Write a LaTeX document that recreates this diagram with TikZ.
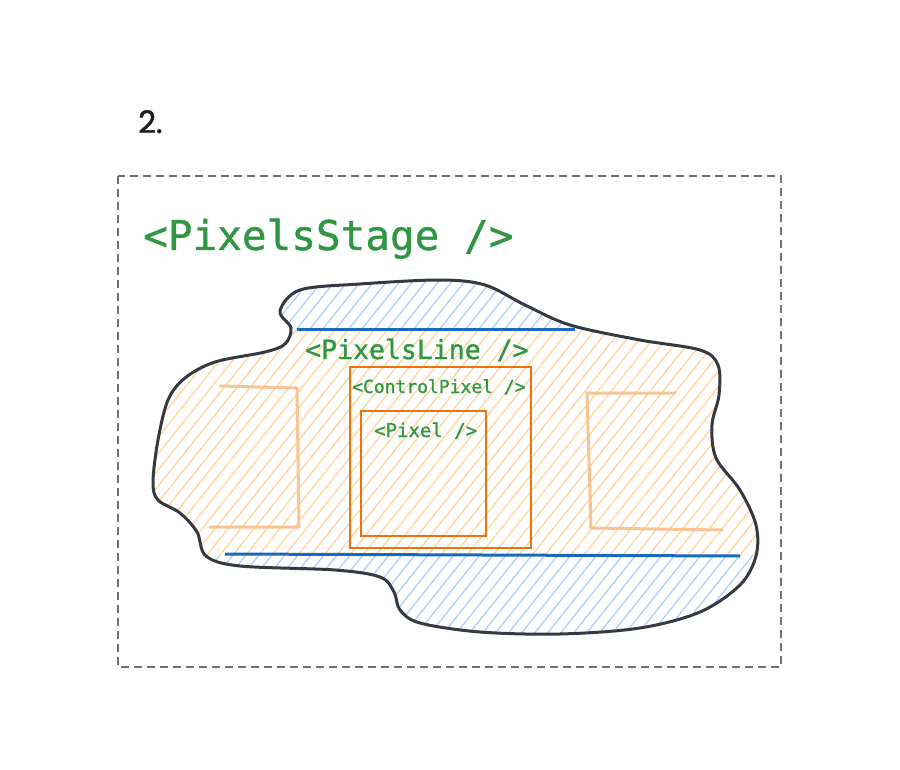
\documentclass[tikz,border=0pt]{standalone}
\usepackage{fontspec}
\newfontfamily\tagfont{DejaVu Sans Mono}[BoldFont={DejaVu Sans Mono}, BoldFeatures={FakeBold=0.9}]
\newfontfamily\numfont{Poppins}[BoldFont={Poppins}, BoldFeatures={FakeBold=1.5}]
\definecolor{tagG}{RGB}{47,150,66}
\definecolor{boxO}{RGB}{240,112,10}
\definecolor{lightO}{RGB}{248,196,150}
\definecolor{hatchO}{RGB}{255,214,155}
\definecolor{hatchB}{RGB}{182,202,250}
\definecolor{lineB}{RGB}{25,105,190}
\definecolor{blobK}{RGB}{52,58,64}
\definecolor{dashG}{RGB}{112,112,112}
\tikzset{
  tag/.style={text=tagG, inner sep=0pt, anchor=base west},
  obox/.style={draw=boxO, line width=1.7pt},
  side/.style={draw=lightO, line width=3pt, line join=round, line cap=round},
  bline/.style={draw=lineB, line width=3pt},
  hatch/.style={line width=1.3pt},
}
\begin{document}
\begin{tikzpicture}[x=1pt,y=-1pt]
\useasboundingbox (0,0) rectangle (900,770);
\fill[white] (0,0) rectangle (900,770);

% outer dashed frame
\draw[dashG, line width=2.3pt, dash pattern=on 8pt off 5pt] (118,176) rectangle (781,667);

\node[anchor=base west, inner sep=0pt, font=\numfont\bfseries\fontsize{31}{31}\selectfont, text={rgb,255:red,30;green,30;blue,30}] (num) at (138,133) {2.};

\node[tag, font=\tagfont\bfseries\fontsize{41}{41}\selectfont] (stage) at (143,250) {<PixelsStage />};

% blob
\def\blob{plot[smooth cycle, tension=0.55] coordinates {
 (280,311) (300,290) (360,284) (440,280) (485,285) (525,305) (570,325)
 (640,340) (700,350) (718,365) (719,395) (712,425) (716,458) (740,490)
 (756,525) (756,556) (740,585) (700,612) (640,628) (560,634) (480,632)
 (420,623) (400,610) (394,592) (380,577) (335,570) (240,566) (206,556)
 (197,532) (180,513) (158,500) (153,482) (158,440) (168,400) (185,378)
 (215,362) (265,352) (285,344) (291,328)}}
\begin{scope}
  \clip \blob;
  \foreach \i in {-40,...,70} {
    \draw[hatchB, hatch] (\i*13,700) -- ++(560,-700);
  }
  \fill[white] (140,329) rectangle (770,555);
  \clip (140,329) rectangle (770,555);
  \foreach \i in {-40,...,70} {
    \draw[hatchO, hatch] (\i*13,700) -- ++(560,-700);
  }
\end{scope}
\draw[blobK, line width=3pt] \blob;

% blue lines
\coordinate (t1) at (297,329);
\coordinate (t2) at (575,329);
\coordinate (b1) at (225,554);
\coordinate (b2) at (740,556);
\draw[bline] (t1) -- (t2);
\draw[bline] (b1) -- (b2);

% side brackets
\draw[side] (220,386) -- (297,388) -- (299,527) -- (210,527);
\draw[side] (675,393) -- (587,393) -- (591,528) -- (722,530);

% orange boxes
\draw[obox] (350,367) rectangle (531,548);
\draw[obox] (361,411) rectangle (486,536);

\node[tag, font=\tagfont\bfseries\fontsize{26.5}{26.5}\selectfont] (line) at (305,359) {<PixelsLine />};
\node[tag, font=\tagfont\bfseries\fontsize{18}{18}\selectfont] (ctrl) at (352,393) {<ControlPixel />};
\node[tag, font=\tagfont\bfseries\fontsize{19}{19}\selectfont] (pix) at (374,437) {<Pixel />};
\end{tikzpicture}
\end{document}
